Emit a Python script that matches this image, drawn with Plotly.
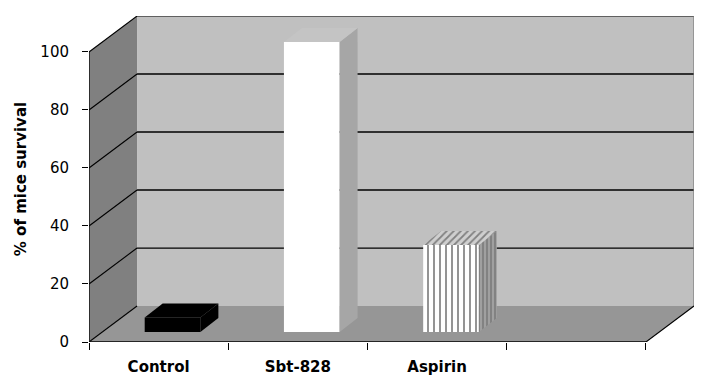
import plotly.graph_objects as go

# ---- data ----
categories = ["Control", "Sbt-828", "Aspirin", ""]
survival = [5, 100, 30]
y_ticks = [0, 20, 40, 60, 80, 100]

# ---- 3D look parameters (axis units) ----
N_CAT = len(categories)
DX, DY = 0.345, 12.4          # floor / wall depth
BAR_BASE = 3.45               # bars stand a bit behind the front edge
BAR_SHIFT = 0.1
BAR_W = 0.4
BDX, BDY = 0.129, 4.83        # bar depth

xmax = N_CAT + DX
ymax = 100 + DY

fig = go.Figure()

centers = [i + 0.5 + BAR_SHIFT for i in range(len(survival))]

front_style = [
    dict(color="black"),
    dict(color="white"),
    dict(color="white", pattern=dict(shape="|", fgcolor="#111111", bgcolor="white",
                                     size=6, solidity=0.3)),
]
side_style = [
    dict(fillcolor="black"),
    dict(fillcolor="#a6a6a6"),
    dict(fillcolor="#9a9a9a", fillpattern=dict(shape="|", fgcolor="#555555",
                                                bgcolor="#a0a0a0", size=4, solidity=0.4)),
]
top_style = [
    dict(fillcolor="black"),
    dict(fillcolor="#c4c4c4"),
    dict(fillcolor="#bbbbbb", fillpattern=dict(shape="/", fgcolor="#333333",
                                                bgcolor="#cfcfcf", size=5, solidity=0.35)),
]

for i, (c, v) in enumerate(zip(centers, survival)):
    xl, xr = c - BAR_W / 2, c + BAR_W / 2
    b, t = BAR_BASE, BAR_BASE + v
    # side face
    fig.add_trace(go.Scatter(
        x=[xr, xr + BDX, xr + BDX, xr, xr],
        y=[b, b + BDY, t + BDY, t, b],
        mode="lines", line=dict(width=0), fill="toself",
        hoverinfo="skip", showlegend=False, **side_style[i]))
    # top face
    fig.add_trace(go.Scatter(
        x=[xl, xr, xr + BDX, xl + BDX, xl],
        y=[t, t, t + BDY, t + BDY, t],
        mode="lines", line=dict(width=0), fill="toself",
        hoverinfo="skip", showlegend=False, **top_style[i]))
    # front face
    fig.add_trace(go.Bar(
        x=[c], y=[v], base=[b], width=[BAR_W],
        marker=dict(line=dict(width=0), **front_style[i]),
        showlegend=False, hoverinfo="skip"))

shapes = []
# side wall
shapes.append(dict(type="path", xref="x", yref="y", layer="below",
                   path=f"M 0,0 L {DX},{DY} L {DX},{100+DY} L 0,100 Z",
                   fillcolor="#808080", line=dict(width=0)))
# back wall
shapes.append(dict(type="rect", xref="x", yref="y", layer="below",
                   x0=DX, x1=N_CAT + DX, y0=DY, y1=100 + DY,
                   fillcolor="#c0c0c0", line=dict(width=0)))
# floor
shapes.append(dict(type="path", xref="x", yref="y", layer="below",
                   path=f"M 0,0 L {N_CAT},0 L {N_CAT+DX},{DY} L {DX},{DY} Z",
                   fillcolor="#969696", line=dict(width=0)))
# gridlines: back wall + side wall
for k in y_ticks:
    if 0 < k < 100:
        shapes.append(dict(type="line", xref="x", yref="y", layer="below",
                           x0=DX, x1=N_CAT + DX, y0=DY + k, y1=DY + k,
                           line=dict(color="black", width=1.3)))
    shapes.append(dict(type="line", xref="x", yref="y", layer="below",
                       x0=0, x1=DX, y0=k, y1=DY + k,
                       line=dict(color="black", width=1.1)))
# wall top edge
shapes.append(dict(type="line", xref="x", yref="y", layer="below",
                   x0=DX, x1=N_CAT + DX, y0=100 + DY, y1=100 + DY,
                   line=dict(color="black", width=1.2)))
# back wall right edge
shapes.append(dict(type="line", xref="x", yref="y", layer="below",
                   x0=N_CAT + DX, x1=N_CAT + DX, y0=DY, y1=100 + DY,
                   line=dict(color="#7a7a7a", width=1.2)))
# floor right diagonal
shapes.append(dict(type="line", xref="x", yref="y", layer="below",
                   x0=N_CAT, x1=N_CAT + DX, y0=0, y1=DY,
                   line=dict(color="black", width=1.1)))
# front axis lines
shapes.append(dict(type="line", xref="x", yref="y",
                   x0=0, x1=N_CAT, y0=0, y1=0,
                   line=dict(color="black", width=1.3)))
shapes.append(dict(type="line", xref="x", yref="y",
                   x0=0, x1=0, y0=0, y1=100,
                   line=dict(color="black", width=1.3)))

# page body has an 8px margin, so the figure is sized to fit the window
fig.update_layout(
    width=698, height=379, autosize=False,
    margin=dict(l=81, r=12, t=8, b=45),
    paper_bgcolor="white", plot_bgcolor="white",
    font=dict(family="DejaVu Sans", color="black"),
    shapes=shapes,
    barmode="overlay",
    xaxis=dict(
        range=[0, xmax], showgrid=False, zeroline=False, showline=False,
        automargin=False,
        tickvals=[i + 0.5 for i in range(N_CAT)], ticktext=categories,
        ticks="", tickfont=dict(size=15, family="DejaVu Sans", weight="bold"),
        ticklabelstandoff=14,
        minor=dict(tickvals=list(range(N_CAT + 1)), ticks="outside",
                   ticklen=7, tickcolor="black", tickwidth=1.2, showgrid=False),
        fixedrange=True),
    yaxis=dict(
        range=[0, ymax], showgrid=False, zeroline=False, showline=False,
        automargin=False,
        tickvals=y_ticks, ticks="outside", ticklen=6, tickcolor="black",
        tickwidth=1.2, tickfont=dict(size=15), ticklabelstandoff=10,
        title=dict(text="% of mice survival", standoff=10,
                   font=dict(size=15, weight="bold")),
        fixedrange=True),
)

fig.write_html("out.html")
